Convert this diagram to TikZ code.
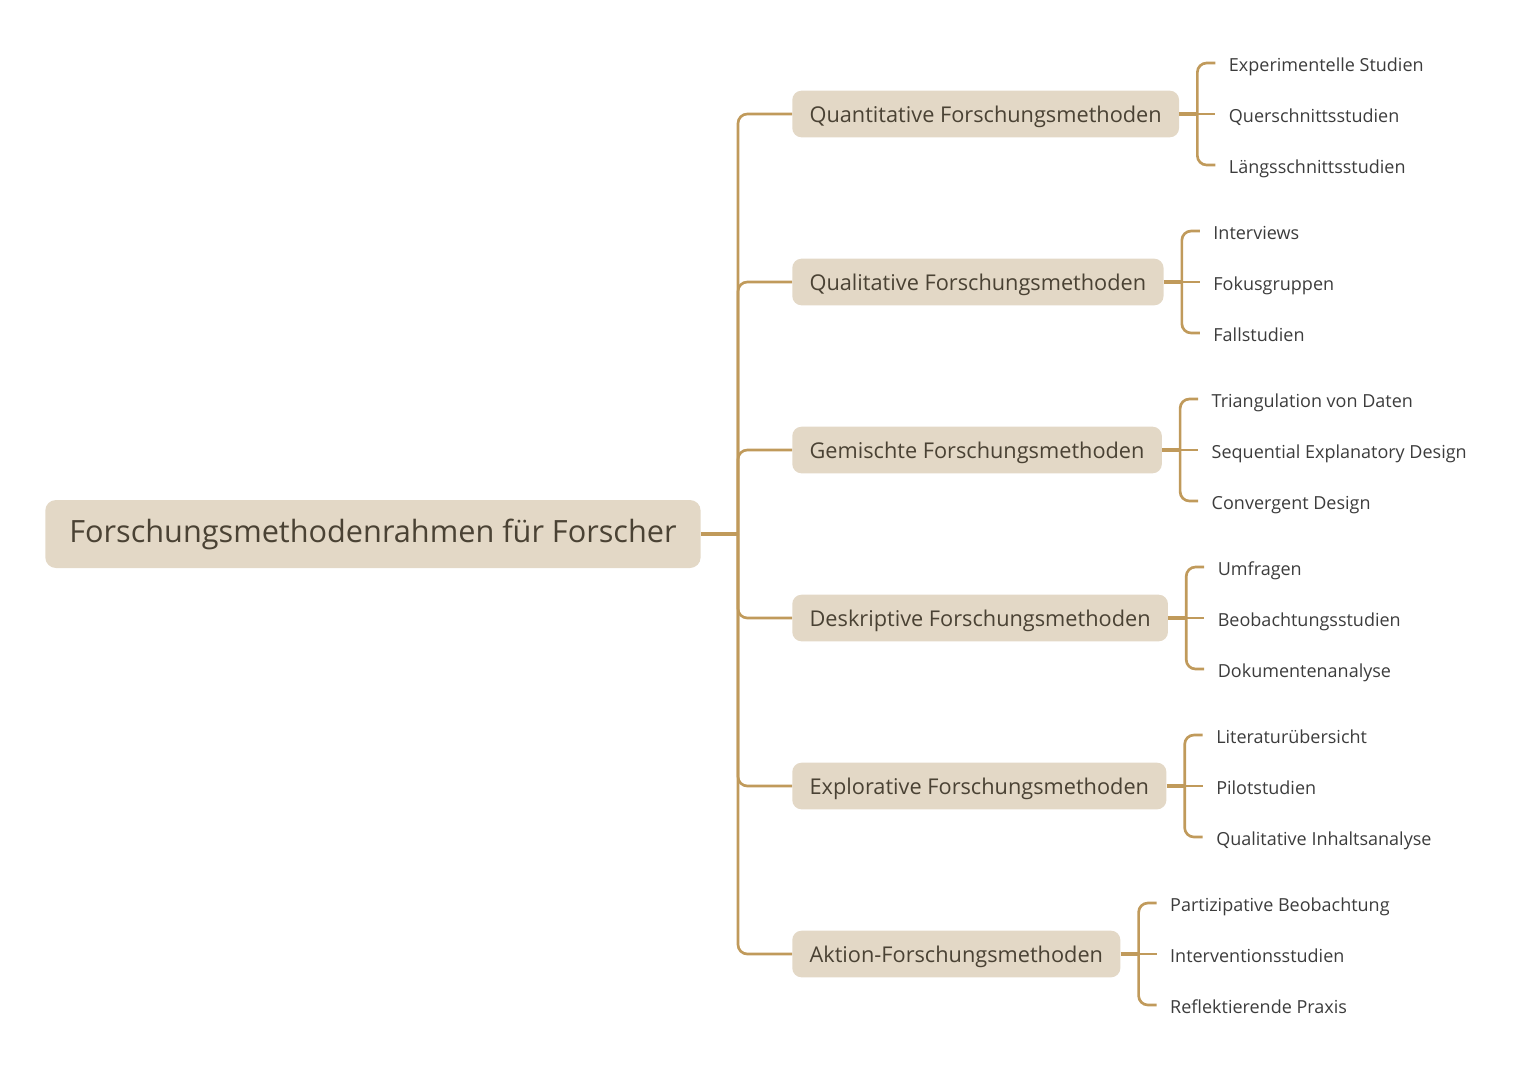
\documentclass[tikz,border=0pt]{standalone}
\usepackage{fontspec}
\setmainfont{Open Sans}
\usetikzlibrary{calc}
\definecolor{ln}{HTML}{C09A5B}
\definecolor{bx}{HTML}{E3D8C6}
\definecolor{tx}{HTML}{4A4234}
\definecolor{lf}{HTML}{3C3C3C}
\tikzset{
 rootbox/.style={fill=bx,rounded corners=8pt,text=tx,font=\fontsize{23}{28}\selectfont,minimum height=51pt,text height=1.2em,text depth=0em,inner xsep=18pt,anchor=west},
 mainbox/.style={fill=bx,rounded corners=7pt,text=tx,font=\fontsize{16.3}{20}\selectfont,minimum height=35pt,text height=1.2em,text depth=0em,inner xsep=13pt,anchor=west},
 leaf/.style={text=lf,font=\fontsize{13.5}{16}\selectfont,text height=1.2em,text depth=0em,inner xsep=10pt,anchor=west},
 conn/.style={draw=ln,line width=2pt,rounded corners=7pt},
}
\begin{document}
\begin{tikzpicture}[x=0.75pt,y=-0.75pt]
\useasboundingbox (0,0) rectangle (1539,1083);
\node[rootbox] (r) at (45,534) {Forschungsmethodenrahmen für Forscher};
\coordinate (t) at (738,534);
\draw[conn,line width=2.6pt] (r.east) -- (t);
\foreach \n/\y/\txt/\a/\b/\c in {
 m1/114/Quantitative Forschungsmethoden/Experimentelle Studien/Querschnittsstudien/Längsschnittsstudien,
 m2/282/Qualitative Forschungsmethoden/Interviews/Fokusgruppen/Fallstudien,
 m3/450/Gemischte Forschungsmethoden/Triangulation von Daten/Sequential Explanatory Design/Convergent Design,
 m4/618/Deskriptive Forschungsmethoden/Umfragen/Beobachtungsstudien/Dokumentenanalyse,
 m5/786/Explorative Forschungsmethoden/Literaturübersicht/Pilotstudien/Qualitative Inhaltsanalyse,
 m6/954/Aktion-Forschungsmethoden/Partizipative Beobachtung/Interventionsstudien/Reflektierende Praxis}{
 \node[mainbox] (\n) at (792,\y) {\txt};
 \draw[conn] (t) |- (\n.west);
 \coordinate (\n b) at ($(\n.east)+(18,0)$);
 \node[leaf] (\n a) at ($(\n b)+(18,-51)$) {\a};
 \node[leaf] (\n m) at ($(\n b)+(18,0)$) {\b};
 \node[leaf] (\n c) at ($(\n b)+(18,51)$) {\c};
 \draw[conn,line width=2.6pt] (\n.east) -- (\n b);
 \draw[conn] (\n b) -- (\n m.west);
 \draw[conn] (\n a.west) -| (\n b) |- (\n c.west);
}
\end{tikzpicture}
\end{document}
